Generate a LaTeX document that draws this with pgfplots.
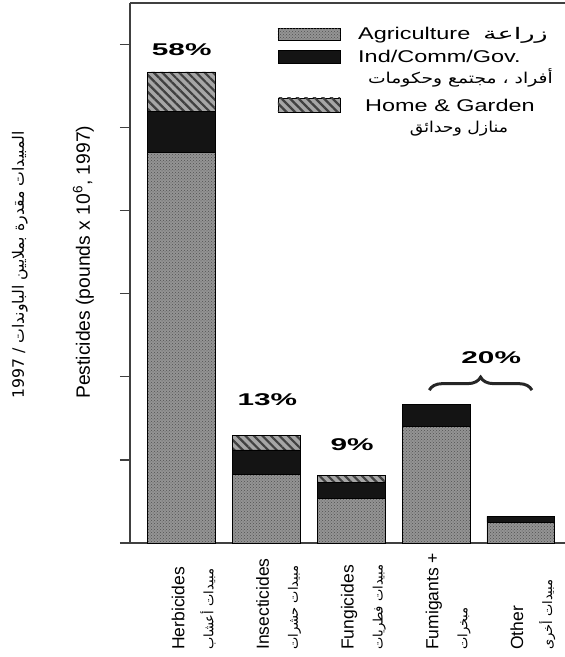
\documentclass[border=0pt]{standalone}
\usepackage{fontspec}
\setmainfont{Liberation Sans}
\newfontfamily\arabicfont[Script=Arabic]{DejaVu Sans}
\usepackage{pgfplots}
\pgfplotsset{compat=1.18}
\usepackage{pgfplotstable}
\usetikzlibrary{patterns,patterns.meta,decorations.pathreplacing}
\TeXXeTstate=1

\newcommand\arsize[1]{\arabicfont\fontsize{#1}{#1}\selectfont}
\newcommand\wide[1]{\scalebox{1.38}[1]{#1}}

% pesticide use, 10^6 lb, 1997
\pgfplotstableread{
x ag  ind home
0 470 49  48
1 83  29  18
2 54  19  8
3 140 27  0
4 25  7   0
}\pest

\tikzset{
  agr/.style={fill=black!42, postaction={pattern=crosshatch dots, pattern color=black!68}},
  ind/.style={fill=black!92},
  hom/.style={fill=black!35, postaction={pattern={Lines[angle=-45,distance=6pt,line width=2.2pt]}, pattern color=black!75}},
}

\begin{document}
\begin{tikzpicture}
\begin{axis}[
    scale only axis, width=435pt, height=540pt,
    ybar stacked, bar width=0.8,
    xmin=-0.61, xmax=4.52, ymin=0, ymax=650,
    axis x line*=bottom, axis y line*=left,
    axis line style={black!75, line width=1.3pt},
    ytick={0,100,...,600}, yticklabels={},
    tick align=outside, major tick length=10pt,
    ytick style={black!75, line width=1.3pt},
    xtick=data, xtick style={draw=none},
    xticklabels={
      {Herbicides\\{\arsize{13}\beginR مبيدات أعشاب\endR}},
      {Insecticides\\{\arsize{13}\beginR مبيدات حشرات\endR}},
      {Fungicides\\{\arsize{13}\beginR مبيدات فطريات\endR}},
      {Fumigants +\\{\arsize{13}\beginR مبخرات\endR}},
      {Other\\{\arsize{13}\beginR مبيدات أخرى\endR}}},
    xticklabel style={xshift=12pt, rotate=90, anchor=west, inner sep=0pt, align=left,
      font=\fontsize{17.5}{29}\selectfont},
    xticklabel shift=97pt,
    clip=false,
]
\addplot[agr, draw=black, line width=0.8pt] table[x=x, y=ag]{\pest};
\addplot[ind, draw=black, line width=0.8pt] table[x=x, y=ind]{\pest};
\addplot[hom, draw=black, line width=0.8pt] table[x=x, y=home]{\pest};

\node[font=\bfseries\fontsize{17}{17}\selectfont] at (axis cs:0,594) {\scalebox{1.75}[1]{58\%}};
\node[font=\bfseries\fontsize{17}{17}\selectfont] at (axis cs:1.01,172) {\scalebox{1.75}[1]{13\%}};
\node[font=\bfseries\fontsize{17}{17}\selectfont] at (axis cs:2.01,118) {\scalebox{1.75}[1]{9\%}};
\node[font=\bfseries\fontsize{17}{17}\selectfont] at (axis cs:3.65,223) {\scalebox{1.75}[1]{20\%}};
\draw[decorate, decoration={brace, amplitude=13pt}, line width=3pt, black!85]
  (axis cs:2.92,184) -- (axis cs:4.13,184);
\end{axis}

% top frame line
\draw[black!75, line width=1.3pt] (0,540pt) -- (435pt,540pt);

% axis titles
\node[rotate=90, anchor=base west, inner sep=0pt, font=\fontsize{19.3}{19.3}\selectfont]
  at (-40pt,144pt) {Pesticides (pounds x 10\textsuperscript{6}, 1997)};
\node[rotate=90, anchor=base west, inner sep=0pt]
  at (-106pt,144pt) {\arsize{15.7}\beginR المبيدات مقدرة بملايين الباوندات / \beginL 1997\endL\endR};

% legend
\draw[agr, draw=black, line width=0.8pt] (148pt,503pt) rectangle (210pt,515pt);
\node[anchor=base west, inner sep=0pt, font=\fontsize{17}{17}\selectfont] at (228pt,503pt) {\wide{Agriculture}};
\node[anchor=base east, inner sep=0pt] at (418pt,503pt) {\scalebox{1.7}[1]{\arsize{16}\beginR زراعة\endR}};
\draw[ind, draw=black, line width=0.8pt] (148pt,480pt) rectangle (210pt,493pt);
\node[anchor=base west, inner sep=0pt, font=\fontsize{17}{17}\selectfont] at (228pt,480pt) {\wide{Ind/Comm/Gov.}};
\node[anchor=base east, inner sep=0pt] at (423pt,459pt) {\scalebox{1.25}[1]{\arsize{15}\beginR أفراد ، مجتمع وحكومات\endR}};
\draw[hom, draw=black, line width=0.8pt] (148pt,431pt) rectangle (210pt,445pt);
\node[anchor=base west, inner sep=0pt, font=\fontsize{17}{17}\selectfont] at (235pt,431pt) {\wide{Home \& Garden}};
\node[anchor=base, inner sep=0pt] at (329pt,410pt) {\scalebox{1.15}[1]{\arsize{15}\beginR منازل وحدائق\endR}};

\pgfresetboundingbox
\path[use as bounding box] (-130pt,-114pt) rectangle (435pt,543pt);
\end{tikzpicture}
\end{document}
